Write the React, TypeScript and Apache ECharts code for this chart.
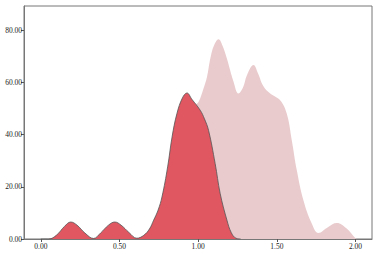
import React, { useEffect, useRef } from "react";
import * as echarts from "echarts";

const xTicks = [0, 0.5, 1.0, 1.5, 2.0];
const yTicks = [0, 20, 40, 60, 80];

const darkSeries: [number, number][] = [
  [0.0, 0], [0.05, 0], [0.1, 1.5], [0.15, 4.8], [0.19, 6.5], [0.23, 5.3], [0.28, 2.3],
  [0.335, 0.2], [0.38, 2.3], [0.43, 5.3], [0.47, 6.5], [0.51, 5.3], [0.56, 2.5],
  [0.61, 0.3], [0.654, 1.4], [0.69, 3.8], [0.717, 7.2], [0.745, 11], [0.77, 16.1],
  [0.806, 27.6], [0.834, 39], [0.865, 48], [0.9, 54], [0.929, 55.9], [0.96, 53.5],
  [1.013, 49.3], [1.04, 46], [1.066, 41.6], [1.108, 28.9], [1.14, 17.4], [1.183, 7.2],
  [1.21, 2.5], [1.24, 0.3], [1.27, 0],
];

const lightSeries: [number, number][] = [
  [0.7, 0], [0.8, 5], [0.9, 25], [0.95, 44], [0.98, 51], [1.003, 52.5], [1.034, 57.6],
  [1.056, 62], [1.077, 69], [1.1, 74], [1.13, 76.5], [1.155, 74], [1.183, 69],
  [1.225, 60.2], [1.256, 55.7], [1.285, 58], [1.31, 62.7], [1.352, 66.6], [1.38, 63.5],
  [1.415, 58.5], [1.458, 55.7], [1.521, 53.1], [1.563, 48], [1.595, 37.8], [1.627, 26.3],
  [1.669, 14.8], [1.722, 5.9], [1.764, 2.3], [1.827, 4.6], [1.881, 6.1], [1.944, 4],
  [1.997, 0.5], [2.01, 0],
];

export default function App() {
  const ref = useRef<HTMLDivElement>(null);
  useEffect(() => {
    if (!ref.current) return;
    const chart = echarts.init(ref.current, null, { renderer: "svg" });
    const labelStyle = {
      fontFamily: "'Liberation Serif', 'DejaVu Serif', serif",
      fontSize: 7.5,
      color: "#222",
    };
    chart.setOption({
      animation: false,
      grid: {
        left: 24,
        right: 6,
        top: 6,
        bottom: 15,
        show: true,
        borderColor: "#777",
        borderWidth: 1,
        containLabel: false,
      },
      xAxis: {
        type: "value",
        min: -0.107,
        max: 2.105,
        splitLine: { show: false },
        axisLine: { show: true, onZero: false, lineStyle: { color: "#777", width: 1 } },
        axisTick: { show: true, length: 3, lineStyle: { color: "#555" }, customValues: xTicks },
        axisLabel: {
          ...labelStyle,
          margin: 3,
          customValues: xTicks,
          formatter: (v: number) => v.toFixed(2),
        },
      },
      yAxis: {
        type: "value",
        min: 0,
        max: 89.2,
        splitLine: { show: false },
        axisLine: { show: true, onZero: false, lineStyle: { color: "#777", width: 1 } },
        axisTick: { show: true, length: 3, lineStyle: { color: "#555" }, customValues: yTicks },
        axisLabel: {
          ...labelStyle,
          margin: 2,
          customValues: yTicks,
          formatter: (v: number) => v.toFixed(2),
        },
      },
      series: [
        {
          type: "line",
          data: lightSeries,
          smooth: 0.4,
          showSymbol: false,
          lineStyle: { width: 0 },
          areaStyle: { color: "#e9cbcd", opacity: 1 },
          z: 1,
        },
        {
          type: "line",
          data: darkSeries,
          smooth: 0.4,
          showSymbol: false,
          lineStyle: { width: 0.8, color: "#555" },
          areaStyle: { color: "#e05661", opacity: 1 },
          z: 2,
        },
      ],
    });
    return () => chart.dispose();
  }, []);
  return (
    <div
      ref={ref}
      style={{ position: "fixed", left: 0, top: 0, width: 378, height: 254, background: "#fff" }}
    />
  );
}
